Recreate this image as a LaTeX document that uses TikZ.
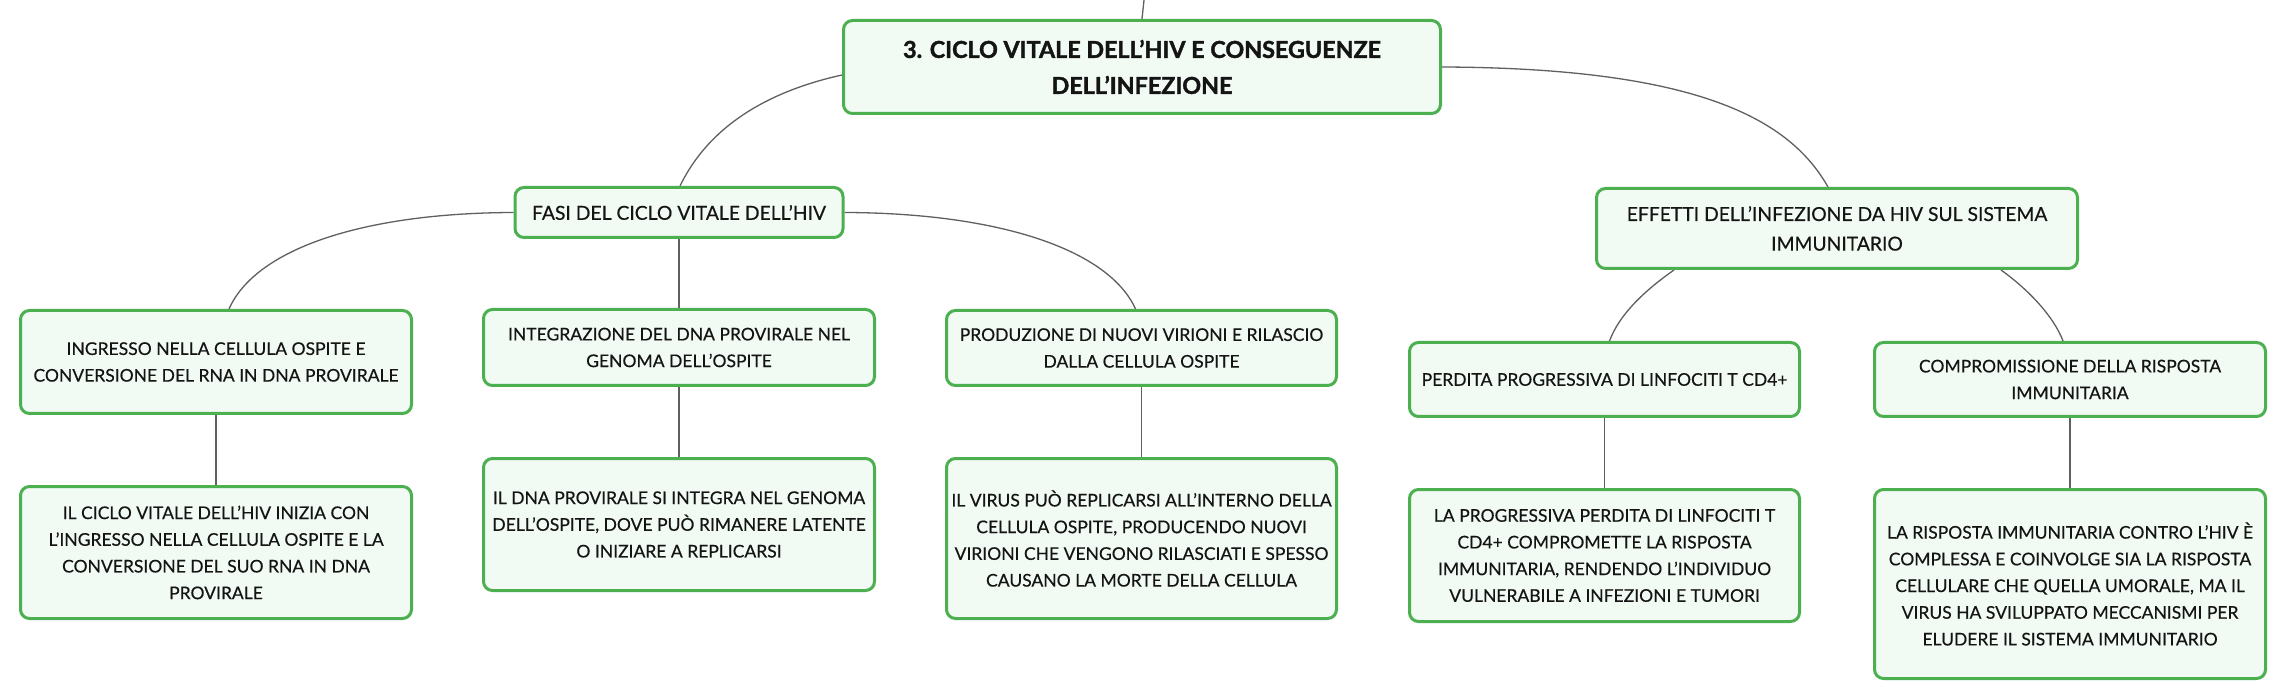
\documentclass[tikz,border=0pt]{standalone}
\usepackage{fontspec}
\setmainfont{Lato}[FakeBold=0.4, BoldFeatures={FakeBold=1.6}]
\usetikzlibrary{calc}
\pgfdeclarelayer{bg}
\pgfsetlayers{bg,main}
\definecolor{boxgreen}{RGB}{76,175,80}
\definecolor{boxfill}{RGB}{242,250,244}
\definecolor{linegray}{RGB}{96,96,96}
\definecolor{txt}{RGB}{20,20,20}
\begin{document}
\begin{tikzpicture}[x=1pt,y=-1pt,
  box/.style={draw=boxgreen, line width=3pt, fill=boxfill, rounded corners=9pt,
    align=center, inner sep=0pt, text=txt, font=\fontsize{17.5}{26.7}\selectfont},
  midbox/.style={box, font=\fontsize{19.3}{29.6}\selectfont},
  titlebox/.style={box, font=\fontsize{23.3}{36}\selectfont\bfseries},
  conn/.style={draw=linegray, line width=1.3pt}]
\useasboundingbox (0,0) rectangle (2284,700);

\node[titlebox, minimum width=597pt, minimum height=93pt] (root) at (1142,67)
  {3. CICLO VITALE DELL’HIV E CONSEGUENZE\\DELL’INFEZIONE};
\node[midbox, minimum width=328pt, minimum height=50pt] (fasi) at (679,212.5)
  {FASI DEL CICLO VITALE DELL’HIV};
\node[midbox, minimum width=481pt, minimum height=80pt] (effetti) at (1837,228.5)
  {EFFETTI DELL’INFEZIONE DA HIV SUL SISTEMA\\IMMUNITARIO};

\node[box, minimum width=391pt, minimum height=103pt] (b1) at (216,362)
  {INGRESSO NELLA CELLULA OSPITE E\\CONVERSIONE DEL RNA IN DNA PROVIRALE};
\node[box, minimum width=391pt, minimum height=132pt] (b1b) at (216,552.5)
  {IL CICLO VITALE DELL’HIV INIZIA CON\\L’INGRESSO NELLA CELLULA OSPITE E LA\\CONVERSIONE DEL SUO RNA IN DNA\\PROVIRALE};
\node[box, minimum width=391pt, minimum height=76pt] (b2) at (679,347.5)
  {INTEGRAZIONE DEL DNA PROVIRALE NEL\\GENOMA DELL’OSPITE};
\node[box, minimum width=391pt, minimum height=132pt] (b2b) at (679,524.5)
  {IL DNA PROVIRALE SI INTEGRA NEL GENOMA\\DELL’OSPITE, DOVE PUÒ RIMANERE LATENTE\\O INIZIARE A REPLICARSI};
\node[box, minimum width=390pt, minimum height=75pt] (b3) at (1141.5,348)
  {PRODUZIONE DI NUOVI VIRIONI E RILASCIO\\DALLA CELLULA OSPITE};
\node[box, minimum width=390pt, minimum height=160pt] (b3b) at (1141.5,538.5)
  {IL VIRUS PUÒ REPLICARSI ALL’INTERNO DELLA\\CELLULA OSPITE, PRODUCENDO NUOVI\\VIRIONI CHE VENGONO RILASCIATI E SPESSO\\CAUSANO LA MORTE DELLA CELLULA};

\node[box, minimum width=390pt, minimum height=74pt] (perdita) at (1604.5,379.5)
  {PERDITA PROGRESSIVA DI LINFOCITI T CD4+};
\node[box, minimum width=390pt, minimum height=132pt] (perditab) at (1604.5,555.5)
  {LA PROGRESSIVA PERDITA DI LINFOCITI T\\CD4+ COMPROMETTE LA RISPOSTA\\IMMUNITARIA, RENDENDO L’INDIVIDUO\\VULNERABILE A INFEZIONI E TUMORI};
\node[box, minimum width=391pt, minimum height=74pt] (comp) at (2070,379.5)
  {COMPROMISSIONE DELLA RISPOSTA\\IMMUNITARIA};
\node[box, minimum width=391pt, minimum height=189pt] (compb) at (2070,584)
  {LA RISPOSTA IMMUNITARIA CONTRO L’HIV È\\COMPLESSA E COINVOLGE SIA LA RISPOSTA\\CELLULARE CHE QUELLA UMORALE, MA IL\\VIRUS HA SVILUPPATO MECCANISMI PER\\ELUDERE IL SISTEMA IMMUNITARIO};

\coordinate (topend) at (1144,0);

\begin{pgfonlayer}{bg}
\fill[white] (0,0) rectangle (2284,700);
\draw[conn] (root.north) -- (topend);
\draw[conn] ([yshift=-8pt]root.west) .. controls (765,92) and (708,128) .. ($(fasi.north)+(1,0)$);
\draw[conn] (root.east) .. controls (1700,68) and (1790,120) .. ($(effetti.north)+(-9,0)$);
\draw[conn] (fasi.west) .. controls (360,213) and (255,250) .. ($(b1.north)+(13,0)$);
\draw[conn] (fasi.south) -- (b2.north);
\draw[conn] (fasi.east) .. controls (1000,213) and (1109,250) .. ($(b3.north)+(-6,0)$);
\draw[conn] ($(effetti.south)+(-163,0)$) .. controls (1644,291) and (1619,315) .. ($(perdita.north)+(5,0)$);
\draw[conn] ($(effetti.south)+(164,0)$) .. controls (2029,290) and (2054,317) .. ($(comp.north)+(-7,0)$);
\draw[conn] (b1.south) -- (b1b.north);
\draw[conn] (b2.south) -- (b2b.north);
\draw[conn] (b3.south) -- (b3b.north);
\draw[conn] (perdita.south) -- (perditab.north);
\draw[conn] (comp.south) -- (compb.north);
\end{pgfonlayer}
\end{tikzpicture}
\end{document}
